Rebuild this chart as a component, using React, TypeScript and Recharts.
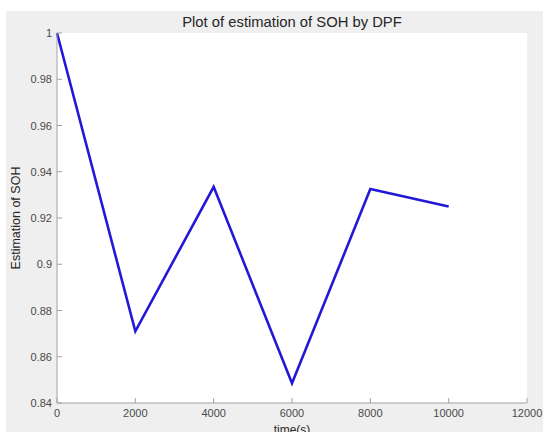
import React from "react";
import { LineChart, Line, XAxis, YAxis, CartesianGrid } from "recharts";

// Time stamps (s) and the DPF estimate of state of health at each one
const times = [0, 2000, 4000, 6000, 8000, 10000];
const sohEstimate = [1.0, 0.871, 0.9335, 0.8485, 0.9325, 0.925];

const xTicks = [0, 2000, 4000, 6000, 8000, 10000, 12000];
const yTicks = [0.84, 0.86, 0.88, 0.9, 0.92, 0.94, 0.96, 0.98, 1];

const data = times.map((t, i) => ({ t, soh: sohEstimate[i] }));

const FONT = "'Liberation Sans', Arial, Helvetica, sans-serif";
const BOX = "#a3a3a3";
const LABEL = "#4a4a4a";
const TICK_LEN = 5;

const fmtY = (v: number) => String(Number(v.toFixed(2)));

const BottomTick = (props: any) => {
  const { x, y, payload } = props;
  return (
    <g>
      <line x1={x} y1={y} x2={x} y2={y - TICK_LEN} stroke={BOX} strokeWidth={1} />
      <text x={x} y={y + 14} textAnchor="middle" fontSize={11} fill={LABEL} fontFamily={FONT}>
        {payload.value}
      </text>
    </g>
  );
};

const TopTick = (props: any) => {
  const { x, y } = props;
  return <line x1={x} y1={y} x2={x} y2={y + TICK_LEN} stroke={BOX} strokeWidth={1} />;
};

const LeftTick = (props: any) => {
  const { x, y, payload } = props;
  return (
    <g>
      <line x1={x} y1={y} x2={x + TICK_LEN} y2={y} stroke={BOX} strokeWidth={1} />
      <text x={x - 5} y={y + 4} textAnchor="end" fontSize={11} fill={LABEL} fontFamily={FONT}>
        {fmtY(payload.value)}
      </text>
    </g>
  );
};

const RightTick = (props: any) => {
  const { x, y } = props;
  return <line x1={x} y1={y} x2={x - TICK_LEN} y2={y} stroke={BOX} strokeWidth={1} />;
};

export default function App() {
  return (
    <div style={{ position: "absolute", left: 0, top: 0, width: 543, height: 432, background: "#ffffff", overflow: "hidden" }}>
      <div style={{ position: "absolute", left: 6, top: 11, width: 537, height: 421, background: "#efefef" }} />
      <div style={{ position: "absolute", left: 0, top: 0 }}>
        <LineChart width={543} height={432} data={data} margin={{ top: 33, right: 16, bottom: 0, left: 0 }}>
          <CartesianGrid horizontal={false} vertical={false} fill="#ffffff" />
          <XAxis
            xAxisId="bottom"
            dataKey="t"
            type="number"
            domain={[0, 12000]}
            ticks={xTicks}
            height={29}
            tickSize={0}
            tickMargin={0}
            stroke={BOX}
            tick={<BottomTick />}
            interval={0}
          />
          <XAxis
            xAxisId="top"
            orientation="top"
            dataKey="t"
            type="number"
            domain={[0, 12000]}
            ticks={xTicks}
            height={0}
            tickSize={0}
            tickMargin={0}
            stroke={BOX}
            tick={<TopTick />}
            interval={0}
          />
          <YAxis
            yAxisId="left"
            type="number"
            domain={[0.84, 1]}
            ticks={yTicks}
            width={57}
            tickSize={0}
            tickMargin={0}
            stroke={BOX}
            tick={<LeftTick />}
            interval={0}
          />
          <YAxis
            yAxisId="right"
            orientation="right"
            type="number"
            domain={[0.84, 1]}
            ticks={yTicks}
            width={0}
            tickSize={0}
            tickMargin={0}
            stroke={BOX}
            tick={<RightTick />}
            interval={0}
          />
          <Line
            xAxisId="bottom"
            yAxisId="left"
            type="linear"
            dataKey="soh"
            stroke="#2318d8"
            strokeWidth={2.6}
            dot={false}
            activeDot={false}
            isAnimationActive={false}
          />
          <text x={292} y={27} textAnchor="middle" fontSize={14.8} fill="#262626" fontFamily={FONT}>
            Plot of estimation of SOH by DPF
          </text>
          <text
            x={20}
            y={218}
            textAnchor="middle"
            fontSize={12.5}
            fill="#262626"
            fontFamily={FONT}
            transform="rotate(-90 20 218)"
          >
            Estimation of SOH
          </text>
          <text x={292} y={434} textAnchor="middle" fontSize={12} fill="#262626" fontFamily={FONT}>
            time(s)
          </text>
        </LineChart>
      </div>
    </div>
  );
}
